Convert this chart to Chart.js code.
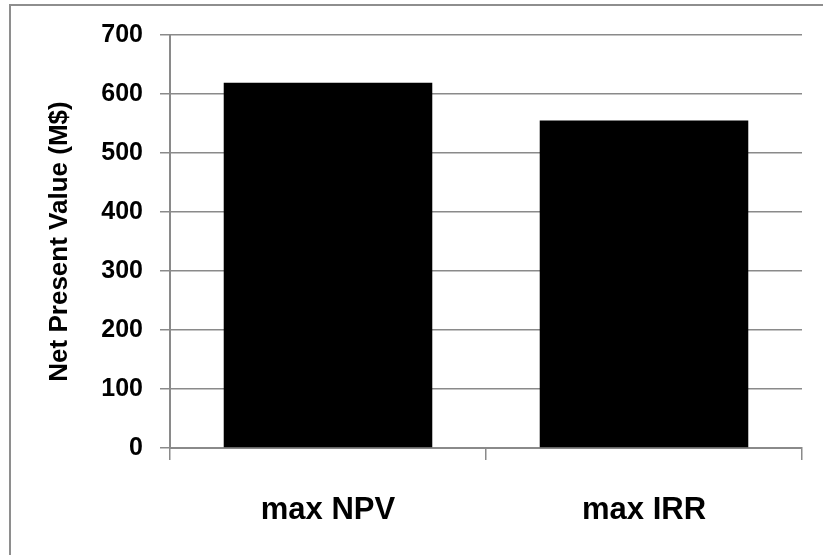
<!DOCTYPE html>
<html>
<head>
<meta charset="utf-8">
<script src="https://cdn.jsdelivr.net/npm/chart.js@4"></script>
<style>
  html, body { margin: 0; padding: 0; background: #fff; }
  #wrap { width: 823px; height: 555px; position: relative; }
</style>
</head>
<body>
<div id="wrap"><canvas id="npvChart" width="823" height="555"></canvas></div>
<script>
// chart data
const categories = ["max NPV", "max IRR"];
const npvValues = [619, 555];
const yTicks = [0, 100, 200, 300, 400, 500, 600, 700];

const FONT = "'Liberation Sans', Arial, sans-serif";
const GRID = "#8a8a8a";

// outer frame of the original figure (only top and left edges are visible)
const frame = {
  id: "frame",
  beforeDraw(chart) {
    const ctx = chart.ctx;
    ctx.save();
    ctx.strokeStyle = "#8e8e8e";
    ctx.lineWidth = 2;
    ctx.beginPath();
    ctx.moveTo(10, 560);
    ctx.lineTo(10, 5);
    ctx.lineTo(830, 5);
    ctx.stroke();
    ctx.restore();
  }
};

const chart = new Chart(document.getElementById("npvChart"), {
  type: "bar",
  data: {
    labels: categories,
    datasets: [{
      label: "Net Present Value (M$)",
      data: npvValues,
      backgroundColor: "#000000",
      borderWidth: 0,
      barPercentage: 0.66,
      categoryPercentage: 1.0
    }]
  },
  options: {
    responsive: false,
    animation: false,
    devicePixelRatio: 1,
    layout: { padding: { left: 0, top: 35, right: 21, bottom: 0 } },
    plugins: {
      legend: { display: false },
      tooltip: { enabled: false }
    },
    scales: {
      x: {
        afterFit: s => { s.height = 107; },
        grid: { drawOnChartArea: false, drawTicks: true, tickLength: 12, color: GRID, lineWidth: 1.5 },
        border: { color: GRID, width: 2 },
        ticks: { color: "#000", padding: 32, font: { family: FONT, size: 31, weight: "bold" } }
      },
      y: {
        min: 0,
        max: 700,
        afterFit: s => { s.width = 170; },
        afterBuildTicks: s => { s.ticks = yTicks.map(v => ({ value: v })); },
        grid: { color: GRID, lineWidth: 1.5, tickLength: 10 },
        border: { color: GRID, width: 2 },
        ticks: { color: "#000", padding: 17, font: { family: FONT, size: 25, weight: "bold" } },
        title: {
          display: true,
          text: "Net Present Value (M$)",
          color: "#000",
          padding: { top: 44, bottom: 0 },
          font: { family: FONT, size: 26, weight: "bold" }
        }
      }
    }
  },
  plugins: [frame]
});
</script>
</body>
</html>
